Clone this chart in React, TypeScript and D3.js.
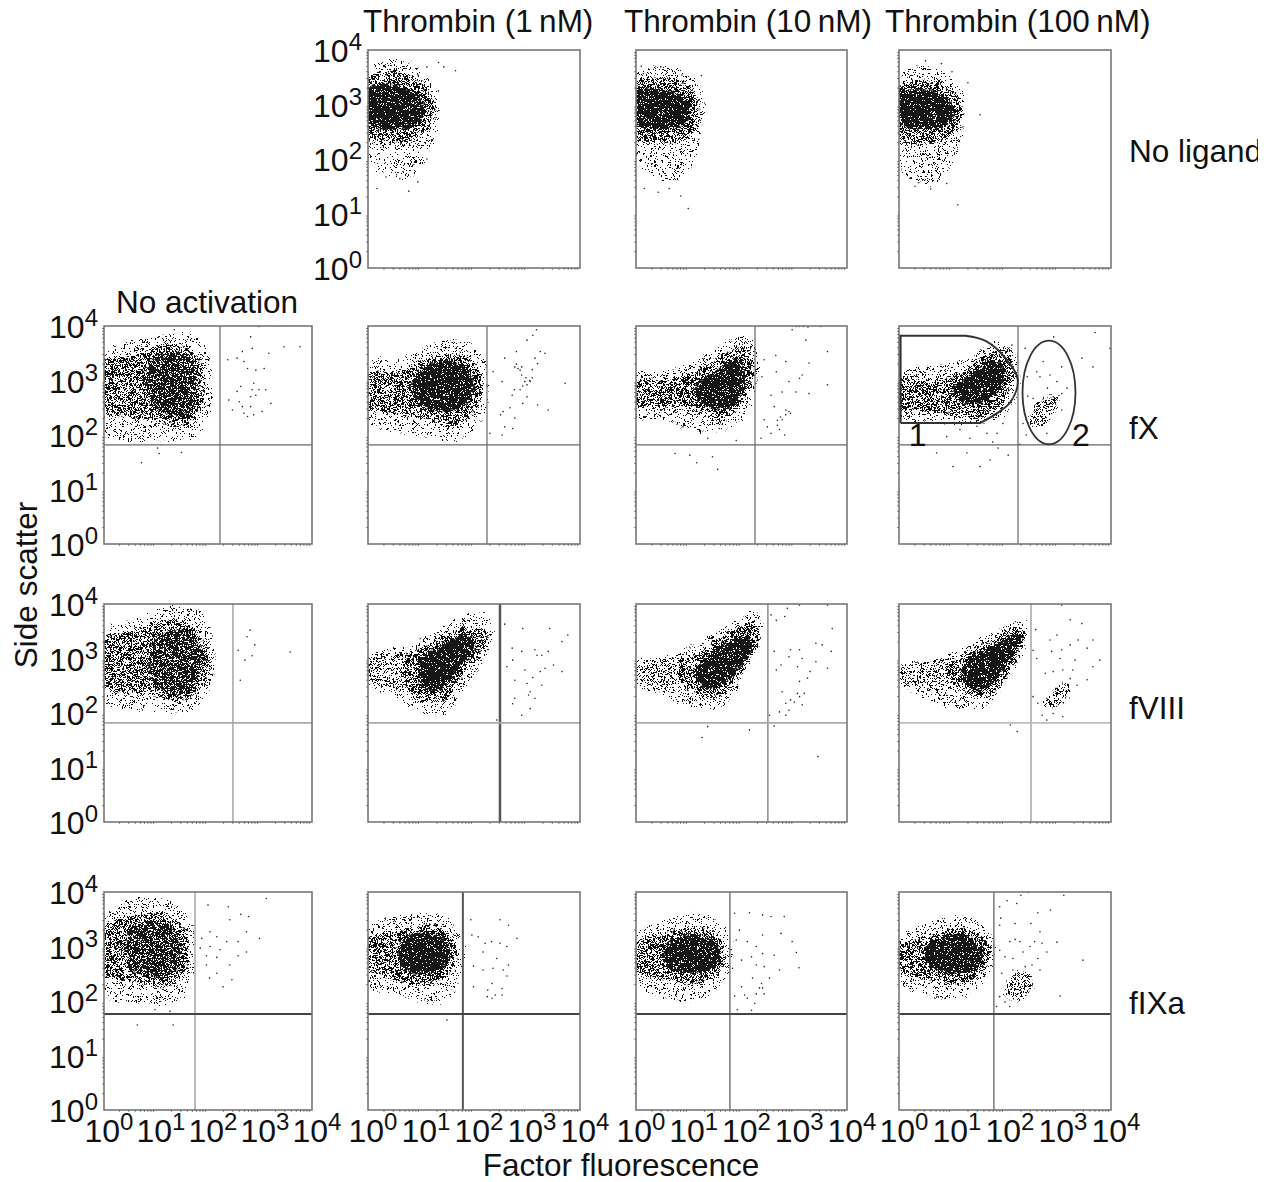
import * as d3 from "d3";

type Pt = [number, number];

// all positions below are decades: [log10 fluorescence, log10 side scatter]
const colLabels = ["Thrombin (1\u2009nM)", "Thrombin (10\u2009nM)", "Thrombin (100\u2009nM)"];
const rowLabels = ["No ligand", "fX", "fVIII", "fIXa"];
const decades = [0, 1, 2, 3, 4];
const minorSteps = [2, 3, 4, 5, 6, 7, 8, 9];

// cell clouds, outlined by density: sparse halo, mid body, dark core
const none1Sparse: Pt[] = [[0,3.6],[0.4,3.85],[0.9,3.7],[1.3,3.2],[1.3,2.6],[1.1,2.0],[0.8,1.65],[0.3,1.7],[0,2.0]];
const none1Mid: Pt[] = [[0,3.45],[0.3,3.6],[0.7,3.55],[1.05,3.35],[1.25,3.0],[1.2,2.7],[1.0,2.45],[0.6,2.3],[0.2,2.3],[0,2.35]];
const none1Dense: Pt[] = [[0,3.3],[0.3,3.38],[0.7,3.3],[1.0,3.1],[1.08,2.9],[0.95,2.65],[0.6,2.55],[0.2,2.55],[0,2.65]];
const none1Dots: Pt[] = [[1.11,3.69],[1.33,3.77],[1.43,3.69],[1.65,3.62],[1.33,3.25],[1.11,2.0],[0.94,1.58],[0.77,1.41],[0.17,1.46],[0.34,3.54],[0.43,3.61],[0.94,3.54],[0.6,1.64],[0.66,1.77],[0.86,1.9],[0.34,1.67],[0.54,1.71]];

const none2Sparse: Pt[] = [[0,3.55],[0.4,3.7],[0.9,3.6],[1.25,3.2],[1.25,2.6],[1.1,2.0],[0.75,1.6],[0.3,1.7],[0,2.0]];
const none2Mid: Pt[] = [[0,3.35],[0.4,3.5],[0.8,3.45],[1.1,3.25],[1.2,2.9],[1.15,2.6],[0.9,2.35],[0.5,2.3],[0.1,2.3],[0,2.4]];
const none2Dense: Pt[] = [[0,3.25],[0.4,3.3],[0.75,3.2],[1.0,3.0],[1.02,2.8],[0.85,2.6],[0.5,2.55],[0.1,2.6],[0,2.7]];
const none2Dots: Pt[] = [[0.1,3.7],[0.14,3.57],[0.47,3.69],[1.24,3.53],[0.87,3.54],[0.85,1.32],[0.99,1.09],[0.16,1.46],[0.42,1.39],[0.63,1.46],[1.19,2.36]];

const none3Sparse: Pt[] = [[0,3.5],[0.4,3.7],[0.9,3.55],[1.2,3.2],[1.2,2.6],[1.05,2.0],[0.7,1.55],[0.3,1.6],[0,1.9]];
const none3Mid: Pt[] = [[0,3.35],[0.4,3.45],[0.8,3.4],[1.1,3.2],[1.18,2.9],[1.1,2.6],[0.85,2.35],[0.5,2.3],[0.1,2.3],[0,2.4]];
const none3Dense: Pt[] = [[0,3.2],[0.4,3.28],[0.75,3.2],[1.0,3.0],[1.03,2.8],[0.85,2.6],[0.5,2.55],[0.1,2.6],[0,2.7]];
const none3Dots: Pt[] = [[1.53,2.81],[1.11,1.16],[0.5,3.8],[0.8,3.75],[1.0,3.6],[1.3,3.4],[0.3,1.5],[0.6,1.45],[0.9,1.55]];

const fx0Sparse: Pt[] = [[0,3.5],[0.5,3.7],[1.2,3.85],[1.8,3.8],[2.05,3.3],[2.05,2.5],[1.8,2.0],[1.0,1.9],[0.3,1.9],[0,2.05]];
const fx0Mid: Pt[] = [[0,3.35],[0.6,3.45],[1.1,3.65],[1.6,3.6],[1.9,3.2],[1.9,2.6],[1.6,2.2],[1.0,2.25],[0.4,2.35],[0,2.45]];
const fx0Dense: Pt[] = [[0.85,3.3],[1.2,3.5],[1.6,3.45],[1.8,3.1],[1.75,2.6],[1.5,2.35],[1.0,2.5],[0.8,2.9]];
const fx0Dots: Pt[] = [[2.82,3.8],[2.85,3.59],[3.17,3.5],[3.46,3.62],[3.77,3.62],[2.69,3.35],[2.76,3.22],[2.92,3.19],[3.08,3.22],[2.38,3.38],[2.56,3.41],[2.66,3.53],[2.88,2.95],[2.85,2.83],[2.63,2.89],[2.56,2.8],[2.82,2.7],[2.92,2.73],[2.4,2.64],[2.6,2.61],[2.66,2.52],[2.82,2.52],[3.21,2.58],[2.47,2.46],[2.88,2.37],[3.04,2.43],[2.76,2.34],[2.69,2.4],[3.11,2.83],[2.98,2.83],[1.03,1.76],[1.06,1.66],[1.49,1.68],[0.72,1.49],[2.98,3.99],[3.33,4.0],[1.35,3.93]];

const fx1Sparse: Pt[] = [[0,3.3],[0.7,3.45],[1.5,3.75],[2.1,3.6],[2.25,3.0],[2.15,2.3],[1.7,1.9],[0.9,2.0],[0.3,2.1],[0,2.3]];
const fx1Mid: Pt[] = [[0,3.1],[0.6,3.15],[1.1,3.4],[1.7,3.5],[2.1,3.2],[2.1,2.6],[1.7,2.2],[1.1,2.3],[0.5,2.4],[0,2.5]];
const fx1Dense: Pt[] = [[0.85,3.05],[1.2,3.3],[1.6,3.35],[1.95,3.15],[1.95,2.7],[1.6,2.45],[1.1,2.5],[0.85,2.75]];
const fx1Dots: Pt[] = [[3.18,3.93],[2.58,3.41],[2.8,3.53],[3.25,3.53],[2.77,3.25],[2.87,3.19],[3.06,2.98],[2.96,2.98],[2.87,2.83],[2.72,2.73],[2.53,2.98],[2.36,3.16],[3.2,3.31],[3.15,3.41],[3.72,2.95],[3.4,2.46],[2.55,2.43],[2.77,2.31],[2.58,2.15],[2.73,2.12],[2.3,2.03],[2.53,2.0],[3.2,2.55],[2.92,2.58],[3.11,3.83],[3.0,3.74],[3.34,3.5],[2.76,2.83],[3.0,2.92],[2.9,3.1],[2.8,3.3],[3.1,3.2],[3.0,2.7],[2.68,2.5],[2.5,2.37],[2.83,3.22],[2.9,3.25],[3.05,3.0],[3.1,3.05],[2.98,3.05],[2.92,2.9]];

const fx2Sparse: Pt[] = [[0,3.1],[0.7,3.2],[1.3,3.45],[1.9,3.8],[2.25,3.7],[2.25,2.8],[1.9,2.2],[1.2,2.05],[0.5,2.3],[0,2.3]];
const fx2Mid: Pt[] = [[0,3.0],[0.6,3.0],[1.2,3.2],[1.7,3.5],[2.1,3.6],[2.2,3.1],[2.0,2.55],[1.6,2.25],[1.0,2.5],[0.4,2.5],[0,2.55]];
const fx2Dense: Pt[] = [[1.1,2.85],[1.5,3.15],[1.9,3.4],[2.05,3.2],[2.0,2.75],[1.7,2.5],[1.3,2.55]];
const fx2Dots: Pt[] = [[2.43,3.38],[2.65,3.46],[2.96,3.93],[3.22,3.74],[3.63,3.53],[2.39,3.07],[2.66,3.16],[2.84,3.35],[3.28,3.32],[3.1,3.04],[2.9,2.98],[3.15,3.1],[2.77,2.79],[3.03,2.79],[3.28,2.76],[3.63,2.92],[2.56,2.73],[2.62,2.52],[2.84,2.46],[2.93,2.4],[2.77,2.28],[2.68,2.18],[2.49,2.15],[2.43,2.28],[2.56,2.03],[2.37,1.94],[2.82,2.0],[2.72,2.1],[2.84,2.37],[2.9,2.43],[2.74,2.33],[2.68,2.27],[3.04,3.99],[3.26,3.98],[3.5,3.99],[3.1,3.99],[3.17,3.99],[1.02,1.63],[1.15,1.49],[1.55,1.37],[0.74,1.66],[1.45,1.6],[1.58,2.12],[1.9,1.9],[1.36,1.94],[0.89,2.15]];

const fx3Sparse: Pt[] = [[0,3.1],[0.7,3.3],[1.3,3.4],[1.8,3.7],[2.2,3.5],[2.25,2.8],[1.9,2.3],[1.3,2.2],[0.5,2.25],[0,2.35]];
const fx3Mid: Pt[] = [[0,3.0],[0.6,3.0],[1.1,3.1],[1.6,3.45],[2.0,3.55],[2.15,3.15],[1.95,2.6],[1.5,2.3],[0.9,2.4],[0.3,2.45],[0,2.5]];
const fx3Dense: Pt[] = [[1.0,2.8],[1.3,3.05],[1.7,3.35],[1.95,3.3],[1.95,2.9],[1.6,2.6],[1.2,2.6]];
const fx3Second: Pt[] = [[2.45,2.2],[2.55,2.5],[2.8,2.7],[3.0,2.7],[2.9,2.35],[2.65,2.15]];
const fx3Dots: Pt[] = [[2.38,3.59],[2.92,3.8],[3.7,3.88],[3.98,3.59],[3.45,3.41],[3.66,3.25],[2.6,3.16],[2.72,3.35],[2.85,3.1],[2.98,2.98],[2.66,3.07],[3.07,3.25],[3.17,2.86],[2.8,2.86],[2.42,3.07],[2.43,2.71],[2.53,2.67],[2.91,2.7],[3.07,2.76],[2.58,1.96],[2.34,2.21],[2.4,2.0],[2.28,1.83],[2.79,2.03],[3.07,2.46],[0.71,1.67],[1.02,1.42],[1.28,1.67],[1.53,1.42],[1.72,1.54],[2.06,1.63],[1.87,1.76],[0.9,1.97],[1.34,1.94],[1.66,2.03],[1.96,2.21],[1.15,2.1],[1.47,2.16],[1.77,1.87],[1.85,2.03],[2.13,3.65]];

const f80Sparse: Pt[] = [[0,3.5],[0.6,3.7],[1.2,3.95],[1.8,3.9],[2.1,3.3],[2.05,2.5],[1.7,2.05],[1.0,2.05],[0.3,2.1],[0,2.2]];
const f80Mid: Pt[] = [[0,3.35],[0.6,3.5],[1.1,3.7],[1.6,3.65],[1.95,3.2],[1.95,2.6],[1.6,2.25],[1.0,2.3],[0.4,2.4],[0,2.5]];
const f80Dense: Pt[] = [[0.9,3.25],[1.2,3.5],[1.6,3.5],[1.85,3.2],[1.8,2.6],[1.5,2.35],[1.0,2.5],[0.85,2.9]];
const f80Dots: Pt[] = [[2.81,3.52],[2.9,3.25],[2.71,2.97],[3.58,3.12],[2.62,2.6],[2.58,3.15],[2.85,3.05],[2.75,3.4]];

const f81Sparse: Pt[] = [[0,3.05],[0.6,3.2],[1.2,3.45],[1.8,3.8],[2.3,3.75],[2.3,3.2],[1.8,2.45],[1.5,2.0],[1.0,2.0],[0.5,2.3],[0,2.55]];
const f81Tail: Pt[] = [[0,3.0],[0.7,3.1],[1.0,2.9],[0.9,2.5],[0.4,2.45],[0,2.6]];
const f81Mid: Pt[] = [[0.7,3.0],[1.2,3.3],[1.8,3.55],[2.25,3.5],[2.15,3.15],[1.75,2.65],[1.45,2.25],[1.0,2.25],[0.7,2.5]];
const f81Dense: Pt[] = [[0.95,2.7],[1.0,3.0],[1.4,3.25],[1.85,3.45],[2.05,3.25],[1.7,2.8],[1.4,2.45],[1.1,2.4]];
const f81Dots: Pt[] = [[2.58,3.63],[2.92,3.55],[3.43,3.55],[3.77,3.43],[2.72,3.19],[2.9,3.13],[3.15,3.16],[3.4,3.13],[3.66,3.31],[2.73,2.97],[2.62,2.85],[2.96,2.79],[3.25,2.76],[3.5,2.88],[3.11,2.65],[3.28,2.51],[2.77,2.6],[3.06,2.39],[3.15,2.27],[2.77,2.27],[2.73,2.17],[3.06,2.08],[2.9,1.96],[2.43,1.87],[3.28,3.06],[3.19,3.06],[3.0,2.54],[3.03,2.33],[3.34,2.82],[3.66,2.76]];

const f82Sparse: Pt[] = [[0.05,2.9],[0.6,3.05],[1.2,3.3],[1.8,3.65],[2.3,3.85],[2.4,3.5],[2.0,2.6],[1.6,2.1],[1.1,2.1],[0.5,2.35],[0.05,2.65]];
const f82Tail: Pt[] = [[0,2.95],[0.5,3.0],[1.0,3.05],[1.1,2.6],[0.5,2.4],[0,2.55]];
const f82Mid: Pt[] = [[0.8,2.85],[1.2,3.1],[1.7,3.45],[2.2,3.65],[2.35,3.4],[2.0,2.75],[1.6,2.3],[1.2,2.35],[0.9,2.55]];
const f82Dense: Pt[] = [[1.1,2.75],[1.3,3.0],[1.7,3.3],[2.1,3.4],[2.2,3.2],[1.9,2.75],[1.6,2.5],[1.3,2.45]];
const f82Dots: Pt[] = [[2.56,3.8],[2.82,3.77],[2.66,3.7],[2.87,3.92],[3.1,3.98],[3.63,3.98],[3.72,3.55],[2.93,3.16],[3.1,3.16],[3.41,3.28],[3.7,3.13],[3.53,3.25],[2.62,3.13],[3.15,3.0],[2.9,3.03],[2.75,2.88],[3.06,2.85],[3.3,2.76],[3.41,2.94],[3.63,2.82],[2.66,2.79],[3.25,2.64],[3.1,2.58],[3.19,2.36],[3.06,2.36],[2.77,2.39],[2.93,2.24],[3.0,2.2],[2.84,2.18],[2.9,2.05],[2.84,1.96],[2.72,2.02],[3.15,2.15],[3.1,2.3],[2.53,1.96],[2.15,1.69],[1.36,1.75],[1.25,1.55],[2.62,1.76],[3.45,1.2]];

const f83Sparse: Pt[] = [[0.05,2.85],[0.7,3.0],[1.3,3.25],[1.9,3.55],[2.35,3.7],[2.4,3.3],[2.0,2.55],[1.7,2.15],[1.0,2.1],[0.5,2.25],[0.05,2.6]];
const f83Tail: Pt[] = [[0,2.85],[0.6,2.95],[1.1,3.0],[1.1,2.5],[0.5,2.45],[0,2.55]];
const f83Mid: Pt[] = [[0.9,2.85],[1.3,3.1],[1.8,3.35],[2.1,3.55],[2.35,3.5],[2.1,2.8],[1.75,2.35],[1.3,2.35],[1.0,2.55]];
const f83Dense: Pt[] = [[1.15,2.75],[1.4,3.05],[1.8,3.25],[2.15,3.45],[2.3,3.4],[2.05,2.9],[1.7,2.5],[1.35,2.45]];
const f83Second: Pt[] = [[2.75,2.15],[3.1,2.55],[3.25,2.5],[3.0,2.1]];
const f83Dots: Pt[] = [[3.23,3.71],[3.45,3.64],[2.85,3.34],[2.98,3.43],[3.07,3.16],[2.88,3.13],[3.23,3.25],[3.38,3.34],[3.55,3.19],[3.66,3.34],[3.79,2.97],[3.66,2.85],[3.32,2.97],[3.04,3.0],[2.91,2.76],[3.09,2.79],[2.76,2.73],[3.28,2.79],[3.55,2.61],[3.23,2.63],[3.36,2.51],[2.6,3.0],[2.53,3.15],[2.53,2.3],[2.79,2.27],[2.62,2.18],[2.7,1.96],[2.79,1.87],[3.09,1.93],[2.91,1.99],[2.1,1.78],[2.23,1.66],[2.58,3.53],[3.07,3.98]];

const ix0Sparse: Pt[] = [[0,3.5],[0.5,3.85],[1.2,3.85],[1.65,3.5],[1.75,2.7],[1.4,2.0],[0.7,1.95],[0,2.1]];
const ix0Mid: Pt[] = [[0,3.35],[0.5,3.55],[1.2,3.6],[1.55,3.3],[1.6,2.7],[1.3,2.3],[0.6,2.35],[0,2.5]];
const ix0Dense: Pt[] = [[0.45,3.2],[0.7,3.45],[1.2,3.4],[1.45,3.1],[1.4,2.6],[1.0,2.45],[0.5,2.6]];
const ix0Dots: Pt[] = [[2.0,3.76],[2.39,3.73],[2.63,3.59],[2.78,3.55],[3.12,3.88],[2.42,3.49],[2.04,3.27],[2.17,3.18],[1.88,3.15],[2.74,3.27],[2.99,3.15],[2.58,3.09],[2.36,3.09],[2.04,3.0],[2.23,2.94],[1.85,2.97],[2.74,2.9],[2.58,2.83],[1.97,2.83],[2.17,2.8],[2.42,2.66],[1.97,2.66],[2.03,2.42],[2.46,2.39],[2.29,2.26],[2.17,2.51],[0.64,1.56],[1.33,1.56],[0.98,1.84],[1.27,1.81]];

const ix1Sparse: Pt[] = [[0,3.35],[0.6,3.55],[1.3,3.6],[1.75,3.2],[1.8,2.6],[1.4,2.0],[0.6,2.1],[0,2.3]];
const ix1Mid: Pt[] = [[0,3.15],[0.6,3.3],[1.2,3.4],[1.6,3.15],[1.65,2.7],[1.3,2.35],[0.6,2.35],[0,2.6]];
const ix1Dense: Pt[] = [[0.6,3.05],[0.9,3.25],[1.3,3.2],[1.55,2.95],[1.45,2.65],[1.0,2.5],[0.65,2.6]];
const ix1Dots: Pt[] = [[1.94,3.49],[2.49,3.49],[2.65,3.39],[2.81,3.15],[2.21,3.06],[2.33,3.09],[2.49,3.06],[2.62,3.0],[1.96,3.21],[2.08,3.18],[2.17,2.9],[2.43,2.78],[2.65,2.66],[1.99,2.64],[2.17,2.57],[2.55,2.57],[2.36,2.6],[2.62,2.46],[1.99,2.26],[2.34,2.32],[2.53,2.23],[2.26,2.2],[2.25,2.08],[2.4,2.11],[2.34,2.05],[2.53,2.11],[1.49,1.65]];

const ix2Sparse: Pt[] = [[0,3.25],[0.6,3.5],[1.3,3.6],[1.75,3.2],[1.75,2.6],[1.3,2.05],[0.6,2.05],[0,2.35]];
const ix2Mid: Pt[] = [[0,3.05],[0.6,3.25],[1.2,3.35],[1.62,3.1],[1.65,2.65],[1.3,2.35],[0.5,2.4],[0,2.55]];
const ix2Dense: Pt[] = [[0.55,3.0],[0.9,3.2],[1.3,3.2],[1.6,2.95],[1.5,2.6],[1.0,2.5],[0.6,2.6]];
const ix2Dots: Pt[] = [[1.87,3.61],[2.15,3.62],[2.4,3.58],[2.56,3.55],[2.81,3.55],[1.96,3.3],[1.9,3.12],[2.11,3.09],[2.28,3.0],[2.4,3.21],[2.75,3.24],[2.96,3.09],[3.04,2.89],[3.09,2.61],[2.62,2.84],[2.72,2.57],[2.4,2.87],[2.19,2.81],[2.0,2.75],[1.83,2.6],[2.28,2.66],[2.43,2.63],[2.21,2.42],[2.38,2.32],[2.53,2.42],[2.0,2.26],[2.06,2.11],[2.28,2.13],[2.43,2.13],[2.34,2.24],[1.87,2.09],[1.92,1.84],[2.19,1.83],[2.25,1.96],[2.11,2.05],[2.4,2.24]];

const ix3Sparse: Pt[] = [[0.03,3.15],[0.6,3.45],[1.3,3.55],[1.75,3.2],[1.75,2.6],[1.3,2.1],[0.6,2.1],[0.03,2.35]];
const ix3Mid: Pt[] = [[0.03,3.0],[0.6,3.2],[1.2,3.35],[1.65,3.1],[1.65,2.65],[1.3,2.35],[0.5,2.4],[0.03,2.55]];
const ix3Dense: Pt[] = [[0.5,3.0],[0.9,3.2],[1.3,3.2],[1.55,2.9],[1.45,2.6],[1.0,2.5],[0.55,2.65]];
const ix3Second: Pt[] = [[2.0,2.1],[2.05,2.35],[2.3,2.55],[2.5,2.45],[2.45,2.15],[2.2,2.0]];
const ix3Dots: Pt[] = [[1.9,3.73],[2.04,3.84],[2.22,3.79],[2.3,3.94],[2.44,3.99],[2.62,3.62],[2.86,3.67],[3.11,3.94],[1.92,3.52],[1.9,3.39],[2.19,3.42],[2.49,3.42],[2.66,3.27],[2.98,3.08],[2.79,2.9],[3.47,2.75],[3.04,2.09],[2.09,3.09],[2.28,3.09],[2.19,3.13],[2.56,3.09],[2.7,3.06],[1.9,2.93],[2.0,2.81],[2.15,2.78],[2.34,2.9],[2.47,3.0],[2.62,2.78],[2.51,2.66],[2.66,2.57],[1.94,2.51],[2.38,2.63],[1.9,2.08],[2.0,1.98],[2.09,1.9],[1.84,1.9],[2.15,2.57]];

// gates in decades; ink differs from panel to panel in the scan
const fxGateY = 1.82;
const f8GateY = 1.82;
const ixGateY = 1.76;
const fxGateX = [2.23, 2.245, 2.256, 2.245];
const f8GateX = [2.48, 2.49, 2.5, 2.49];
const ixGateX = [1.75, 1.79, 1.78, 1.79];
const f8GateInk = [["#777", 1], ["#555", 2.5], ["#888", 1.5], ["#bbb", 2]];
const ixGateInk = [["#bbb", 2], ["#555", 2], ["#777", 1.5], ["#777", 1.5]];

// gates 1 and 2 of the fX / 100 nM panel
const gate1Arc: Pt[] = [[1.25,3.82],[1.65,3.72],[2.0,3.42],[2.24,3.02],[2.1,2.6],[1.8,2.37],[1.53,2.22]];
const gate1Left = 0.03;
const gate2Centre: Pt = [2.83, 2.78];
const gate2Radii: Pt = [0.5, 0.95];

const panels = [
  { col: 1, row: 0, sparse: none1Sparse, mid: none1Mid, dense: none1Dense, dots: none1Dots, solid: true },
  { col: 2, row: 0, sparse: none2Sparse, mid: none2Mid, dense: none2Dense, dots: none2Dots, solid: true },
  { col: 3, row: 0, sparse: none3Sparse, mid: none3Mid, dense: none3Dense, dots: none3Dots, solid: true },
  { col: 0, row: 1, sparse: fx0Sparse, mid: fx0Mid, dense: fx0Dense, dots: fx0Dots, gx: fxGateX[0], gy: fxGateY },
  { col: 1, row: 1, sparse: fx1Sparse, mid: fx1Mid, dense: fx1Dense, dots: fx1Dots, gx: fxGateX[1], gy: fxGateY, solid: true },
  { col: 2, row: 1, sparse: fx2Sparse, mid: fx2Mid, dense: fx2Dense, dots: fx2Dots, gx: fxGateX[2], gy: fxGateY, solid: true },
  { col: 3, row: 1, sparse: fx3Sparse, mid: fx3Mid, dense: fx3Dense, second: fx3Second, dots: fx3Dots, gx: fxGateX[3], gy: fxGateY, solid: true },
  { col: 0, row: 2, sparse: f80Sparse, mid: f80Mid, dense: f80Dense, dots: f80Dots, gx: f8GateX[0], gy: f8GateY, ink: f8GateInk[0], hInk: "#aaa" },
  { col: 1, row: 2, sparse: f81Sparse, tail: f81Tail, mid: f81Mid, dense: f81Dense, dots: f81Dots, gx: f8GateX[1], gy: f8GateY, ink: f8GateInk[1], hInk: "#aaa", solid: true },
  { col: 2, row: 2, sparse: f82Sparse, tail: f82Tail, mid: f82Mid, dense: f82Dense, dots: f82Dots, gx: f8GateX[2], gy: f8GateY, ink: f8GateInk[2], hInk: "#aaa", solid: true },
  { col: 3, row: 2, sparse: f83Sparse, tail: f83Tail, mid: f83Mid, dense: f83Dense, second: f83Second, dots: f83Dots, gx: f8GateX[3], gy: f8GateY, ink: f8GateInk[3], hInk: "#bbb", solid: true },
  { col: 0, row: 3, sparse: ix0Sparse, mid: ix0Mid, dense: ix0Dense, dots: ix0Dots, gx: ixGateX[0], gy: ixGateY, ink: ixGateInk[0], hInk: "#444" },
  { col: 1, row: 3, sparse: ix1Sparse, mid: ix1Mid, dense: ix1Dense, dots: ix1Dots, gx: ixGateX[1], gy: ixGateY, ink: ixGateInk[1], hInk: "#444", solid: true },
  { col: 2, row: 3, sparse: ix2Sparse, mid: ix2Mid, dense: ix2Dense, dots: ix2Dots, gx: ixGateX[2], gy: ixGateY, ink: ixGateInk[2], hInk: "#444", solid: true },
  { col: 3, row: 3, sparse: ix3Sparse, mid: ix3Mid, dense: ix3Dense, second: ix3Second, dots: ix3Dots, gx: ixGateX[3], gy: ixGateY, ink: ixGateInk[3], hInk: "#444", solid: true },
];

// stipple tiles: fill texture for the density outlines, roughened by the #grain filter
const tileA: Pt[] = [[1,2],[6,1],[10,4],[3,6],[8,7],[12,8],[0,10],[5,11],[9,12],[2,14],[7,15],[11,15],[4,3],[12,1],[6,9],[1,16]];
const tileB: Pt[] = [[0,1],[3,0],[6,2],[9,0],[12,1],[15,2],[1,4],[4,3],[8,4],[11,3],[14,5],[16,4],[2,6],[5,5],[7,7],[10,6],[13,7],[16,8],[0,8],[3,9],[6,9],[9,8],[12,9],[15,10],[1,10],[4,7],[8,10],[11,10]];
const tileC: Pt[] = [[0,0],[4,1],[8,0],[2,2],[6,3],[10,2],[1,5],[4,4],[8,5],[3,7],[6,6],[10,7],[0,8],[5,9],[9,9],[2,10],[7,11],[10,11],[0,12],[4,12],[8,13],[2,14],[6,14],[10,15],[1,16],[4,16],[8,17],[3,18],[6,18],[10,18],[0,3],[5,7],[9,3],[7,15],[2,6],[5,13]];
const tileSpecks: Pt[] = [[1,1],[5,0],[9,2],[14,1],[17,3],[3,3],[7,4],[12,4],[16,6],[0,6],[4,7],[9,7],[13,8],[18,9],[2,9],[6,10],[11,10],[15,11],[0,12],[8,12],[10,5],[17,0],[5,5],[13,12]];

const colX = [[104, 312], [368, 580], [636, 847], [899, 1111]];
const rowY = [[268, 50], [544, 326], [822, 604], [1110, 892]];
const font = "'Liberation Sans', Arial, sans-serif";

const Tile = ({ id, w, h, pts, fill, turn = "" }: { id: string; w: number; h: number; pts: Pt[]; fill: string; turn?: string }) => (
  <pattern id={id} width={w} height={h} patternUnits="userSpaceOnUse" patternTransform={turn}>
    {pts.map(([x, y], i) => <rect key={i} x={x} y={y} width={1} height={1} fill={fill} />)}
  </pattern>
);

const Pow = ({ x, y, n, anchor }: { x: number; y: number; n: number; anchor: "end" | "middle" }) => (
  <text x={x} y={y} textAnchor={anchor} fontSize={32} fill="#111">
    10<tspan dy={-12} fontSize={24}>{n}</tspan>
  </text>
);

const Panel = ({ p }: { p: any }) => {
  const x = d3.scaleLinear().domain([0, 4]).range(colX[p.col]);
  const y = d3.scaleLinear().domain([0, 4]).range(rowY[p.row]);
  const blob = d3.line<Pt>().x((d) => x(d[0])).y((d) => y(d[1])).curve(d3.curveCatmullRomClosed);
  const clip = `clip-${p.col}-${p.row}`;
  const [x0, x1] = colX[p.col];
  const [yb, yt] = rowY[p.row];
  const minor = decades.slice(0, 4).flatMap((d) => minorSteps.map((m) => d + Math.log10(m)));
  const showY = p.col === 0 || (p.row === 0 && p.col === 1);
  const ink = p.ink ?? ["#666", 1.2];

  let gate1 = "";
  if (p.second === fx3Second) {
    const arc = d3.line<Pt>().x((d) => x(d[0])).y((d) => y(d[1])).curve(d3.curveCatmullRom)(gate1Arc)!;
    const [last] = gate1Arc.slice(-1);
    gate1 = `M${x(gate1Left)},${y(last[1])}L${x(gate1Left)},${y(gate1Arc[0][1])}L${arc.slice(1)}L${x(gate1Left)},${y(last[1])}`;
  }

  return (
    <g>
      <clipPath id={clip}><rect x={x0} y={yt} width={x1 - x0} height={yb - yt} /></clipPath>
      <g clipPath={`url(#${clip})`}>
        <g filter="url(#grain)">
          <path d={blob(p.sparse)!} fill="url(#tA)" />
          <path d={blob(p.sparse)!} fill="url(#tE)" />
          {p.tail && <path d={blob(p.tail)!} fill="url(#tB)" />}
          <path d={blob(p.mid)!} fill="url(#tB)" />
          <path d={blob(p.mid)!} fill="url(#tC)" />
          <path d={blob(p.mid)!} fill="url(#tD)" />
          <path d={blob(p.dense)!} fill="#181818" />
          <path d={blob(p.dense)!} fill="url(#tS)" />
          {!p.solid && <path d={blob(p.dense)!} fill="url(#tW)" />}
          {p.second && <path d={blob(p.second)!} fill="url(#tB)" />}
          {p.second && <path d={blob(p.second)!} fill="url(#tC)" />}
        </g>
        <g filter="url(#scan)">
          {p.dots.map((d: Pt, i: number) => <circle key={i} cx={x(d[0])} cy={y(d[1])} r={0.8} fill="#222" />)}
        </g>
      </g>
      {p.gx !== undefined && (
        <g>
          <line x1={x(p.gx)} x2={x(p.gx)} y1={yt} y2={yb} stroke={ink[0]} strokeWidth={ink[1]} />
          <line x1={x0} x2={x1} y1={y(p.gy)} y2={y(p.gy)} stroke={p.hInk ?? "#666"} strokeWidth={p.hInk === "#444" ? 2 : p.hInk ? 1.8 : 1.2} />
        </g>
      )}
      <rect x={x0} y={yt} width={x1 - x0} height={yb - yt} fill="none" stroke="#777" strokeWidth={1.6} />
      {minor.map((m) => <line key={m} x1={x(m)} x2={x(m)} y1={yb} y2={yb + 2} stroke="#555" strokeWidth={0.7} />)}
      {minor.map((m) => <line key={m} x1={x0} x2={x0 - 2} y1={y(m)} y2={y(m)} stroke="#555" strokeWidth={0.7} />)}
      {gate1 && <path d={gate1} fill="none" stroke="#333" strokeWidth={2} />}
      {gate1 && (
        <ellipse cx={x(gate2Centre[0])} cy={y(gate2Centre[1])} rx={x(gate2Radii[0]) - x(0)} ry={y(0) - y(gate2Radii[1])}
          fill="none" stroke="#333" strokeWidth={1.8} />
      )}
      {gate1 && <text x={x(0.35)} y={y(1.8)} textAnchor="middle" fontSize={32} fill="#111">1</text>}
      {gate1 && <text x={x(3.43)} y={y(1.8)} textAnchor="middle" fontSize={32} fill="#111">2</text>}
      {showY && decades.map((d) => <Pow key={d} x={x0 - 6} y={y(d) + 12} n={d} anchor="end" />)}
      {p.row === 3 && decades.map((d) => <Pow key={d} x={x(d) + 5} y={yb + 32} n={d} anchor="middle" />)}
    </g>
  );
};

export default function App() {
  return (
    <svg width={1258} height={1182} style={{ position: "absolute", left: 0, top: 0 }} fontFamily={font}>
      <defs>
        <filter id="scan" x="-5%" y="-5%" width="110%" height="110%"><feGaussianBlur stdDeviation={0.3} /></filter>
        <filter id="grain" x="-5%" y="-5%" width="110%" height="110%">
          <feTurbulence type="fractalNoise" baseFrequency={0.3} numOctaves={2} seed={4} result="n" />
          <feDisplacementMap in="SourceGraphic" in2="n" scale={10} xChannelSelector="R" yChannelSelector="G" />
          <feGaussianBlur stdDeviation={0.3} />
        </filter>
        <Tile id="tA" w={13} h={17} pts={tileA} fill="#111" />
        <Tile id="tE" w={13} h={17} pts={tileA} fill="#111" turn="translate(4,9) rotate(90)" />
        <Tile id="tB" w={17} h={11} pts={tileB} fill="#111" />
        <Tile id="tC" w={11} h={19} pts={tileC} fill="#111" />
        <Tile id="tD" w={11} h={19} pts={tileC} fill="#111" turn="translate(3,5) rotate(90)" />
        <Tile id="tS" w={19} h={13} pts={tileSpecks} fill="#fff" />
        <Tile id="tW" w={17} h={11} pts={tileB} fill="#fff" turn="translate(7,2)" />
      </defs>
      <rect width={1258} height={1182} fill="#fff" />
      {panels.map((p) => <Panel key={`${p.col}-${p.row}`} p={p} />)}
      {colLabels.map((t, i) => (
        <text key={t} x={[363, 624, 885][i]} y={32} fontSize={31.5} fill="#111">{t}</text>
      ))}
      <text x={116} y={313} fontSize={31.5} fill="#111">No activation</text>
      {rowLabels.map((t, i) => (
        <text key={t} x={1129} y={[162, 439, 719, 1014][i]} fontSize={31.5} fill="#111">{t}</text>
      ))}
      <text transform="translate(37,585) rotate(-90)" textAnchor="middle" fontSize={31.5} fill="#111">Side scatter</text>
      <text x={621} y={1176} textAnchor="middle" fontSize={31.5} fill="#111">Factor fluorescence</text>
    </svg>
  );
}
